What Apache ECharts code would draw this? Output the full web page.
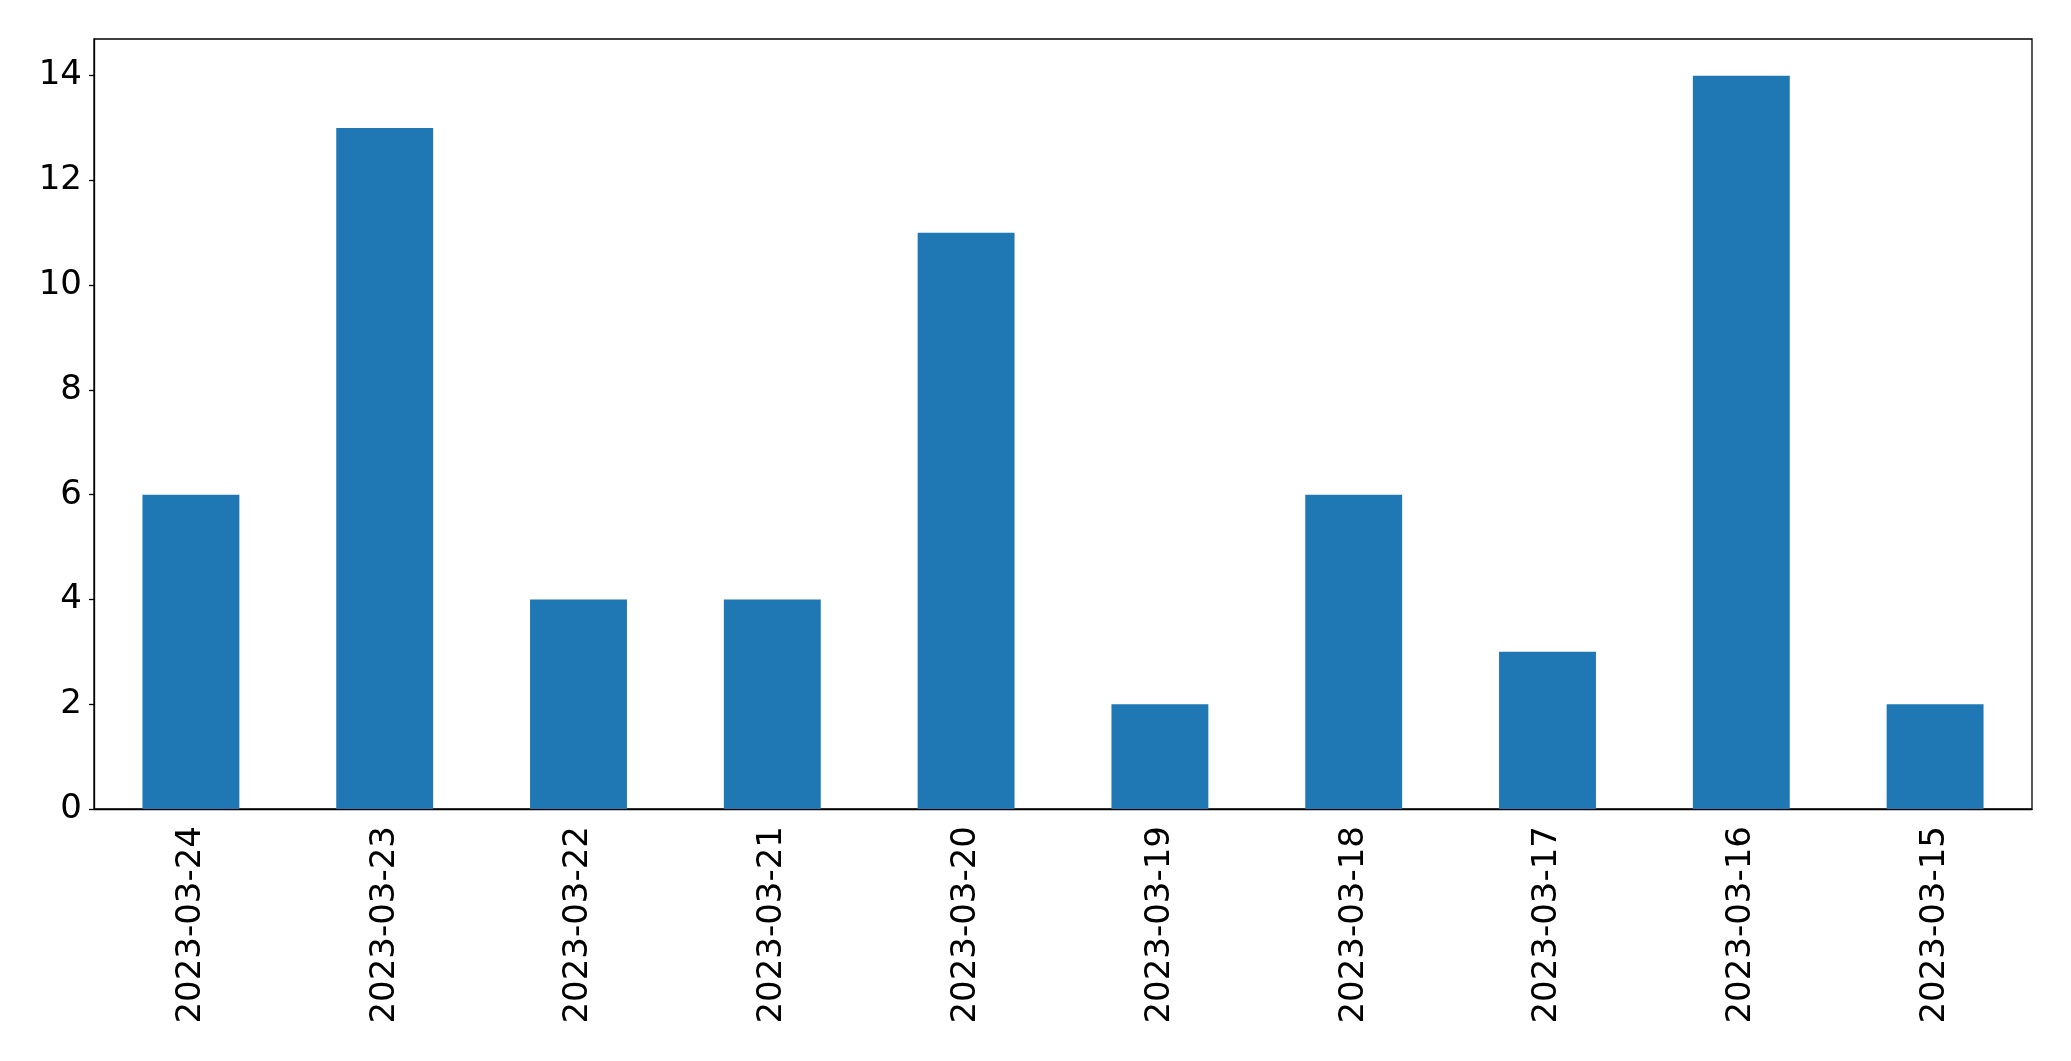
<!DOCTYPE html>
<html>
<head>
<meta charset="utf-8">
<script src="https://cdn.jsdelivr.net/npm/echarts@6/dist/echarts.min.js"></script>
<style>html,body{margin:0;padding:0;background:#fff}#c{width:2071px;height:1061px}</style>
</head>
<body>
<div id="c"></div>
<script>
const categories = ['2023-03-24','2023-03-23','2023-03-22','2023-03-21','2023-03-20','2023-03-19','2023-03-18','2023-03-17','2023-03-16','2023-03-15'];
const values = [6, 13, 4, 4, 11, 2, 6, 3, 14, 2];
const yTicks = [0, 2, 4, 6, 8, 10, 12, 14];

const chart = echarts.init(document.getElementById('c'), null, {renderer: 'canvas'});
const font = 'DejaVu Sans';
chart.setOption({
  animation: false,
  backgroundColor: '#fff',
  grid: {left: 94, right: 39, top: 39, bottom: 252, show: true, borderColor: '#000', borderWidth: 1.3, backgroundColor: 'transparent'},
  xAxis: {
    type: 'category',
    data: categories,
    axisLine: {lineStyle: {color: '#000', width: 1.3}},
    axisTick: {alignWithLabel: true, length: 5, lineStyle: {color: '#000', width: 1.3}},
    axisLabel: {rotate: 90, margin: 17, color: '#000', fontSize: 34, fontFamily: font},
    splitLine: {show: false}
  },
  yAxis: {
    type: 'value',
    min: 0,
    max: 14.7,
    interval: 2,
    axisLine: {show: true, lineStyle: {color: '#000', width: 1.3}},
    axisTick: {show: true, length: 5, customValues: yTicks, lineStyle: {color: '#000', width: 1.3}},
    axisLabel: {margin: 12, color: '#000', fontSize: 34, fontFamily: font, customValues: yTicks},
    splitLine: {show: false}
  },
  series: [{
    type: 'bar',
    data: values,
    barWidth: '50%',
    itemStyle: {color: '#1f77b4'}
  }]
});
</script>
</body>
</html>
